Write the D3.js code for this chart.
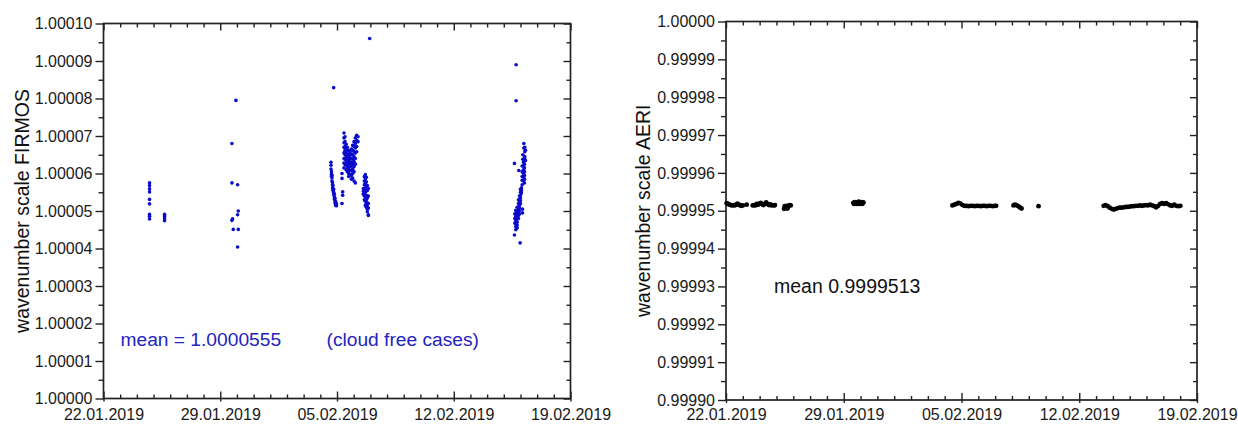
<!DOCTYPE html>
<html>
<head>
<meta charset="utf-8">
<script src="https://cdn.jsdelivr.net/npm/d3@7"></script>
<style>
  html, body { margin: 0; padding: 0; background: #fff; }
  svg { display: block; }
  text { font-family: "Liberation Sans", Arial, sans-serif; }
</style>
</head>
<body>
<svg id="chart" width="1238" height="425"></svg>
<script>
// ---------------- DATA ----------------
const xTickLabels = ["22.01.2019", "29.01.2019", "05.02.2019", "12.02.2019", "19.02.2019"];
const xTickDates = ["2019-01-22", "2019-01-29", "2019-02-05", "2019-02-12", "2019-02-19"];
const firmosYTickLabels = ["1.00000","1.00001","1.00002","1.00003","1.00004","1.00005","1.00006","1.00007","1.00008","1.00009","1.00010"];
const aeriYTickLabels = ["0.99990","0.99991","0.99992","0.99993","0.99994","0.99995","0.99996","0.99997","0.99998","0.99999","1.00000"];

// FIRMOS: days since 22.01.2019 00:00 (one entry per measurement column) and the values measured there
const firmosDay = [
  2.76, 3.66,
  7.70, 7.94, 8.04, 8.08, 7.74, 7.78,
  13.80, 15.96,
  13.64, 13.67, 13.70, 13.73, 13.76, 13.80, 13.84, 13.88, 13.92, 13.96,
  14.30, 14.34,
  14.42, 14.48, 14.55, 14.62, 14.70, 14.78, 14.86, 14.94, 15.02, 15.10, 15.18, 15.26,
  15.58, 15.64, 15.70, 15.76, 15.82, 15.88,
  24.74, 24.64, 25.20, 25.26, 25.30, 25.14, 25.18, 25.24, 25.10, 24.90,
  25.06, 25.00, 24.94, 24.88, 24.80, 24.72, 24.66, 25.12, 24.98
];
const firmosScale = [
  [1.0000575, 1.0000568, 1.0000559, 1.0000551, 1.0000531, 1.0000519, 1.0000491, 1.0000486, 1.0000479],
  [1.0000491, 1.0000487, 1.0000484, 1.0000479, 1.0000474],
  [1.0000680, 1.0000575, 1.0000475],
  [1.0000795],
  [1.0000570, 1.0000490, 1.0000404],
  [1.0000500, 1.0000451],
  [1.0000479],
  [1.0000451],
  [1.0000829],
  [1.0000960],
  [1.0000630, 1.0000622, 1.0000612],
  [1.0000605, 1.0000598, 1.0000593],
  [1.0000595, 1.0000588, 1.0000580],
  [1.0000576, 1.0000570, 1.0000562],
  [1.0000568, 1.0000560, 1.0000555],
  [1.0000558, 1.0000550, 1.0000544],
  [1.0000545, 1.0000538, 1.0000532],
  [1.0000534, 1.0000528, 1.0000522],
  [1.0000525, 1.0000518, 1.0000515],
  [1.0000515, 1.0000520, 1.0000514],
  [1.0000600, 1.0000587, 1.0000520],
  [1.0000551, 1.0000542],
  [1.0000708, 1.0000695, 1.0000682, 1.0000670, 1.0000655, 1.0000640, 1.0000628, 1.0000615],
  [1.0000698, 1.0000685, 1.0000672, 1.0000662, 1.0000650, 1.0000638, 1.0000625],
  [1.0000678, 1.0000666, 1.0000655, 1.0000645, 1.0000635, 1.0000622, 1.0000610],
  [1.0000670, 1.0000660, 1.0000650, 1.0000640, 1.0000630, 1.0000618, 1.0000605],
  [1.0000662, 1.0000652, 1.0000644, 1.0000634, 1.0000624, 1.0000612, 1.0000600, 1.0000592],
  [1.0000658, 1.0000648, 1.0000638, 1.0000628, 1.0000618, 1.0000608, 1.0000598],
  [1.0000665, 1.0000652, 1.0000640, 1.0000630, 1.0000620, 1.0000608, 1.0000595, 1.0000585],
  [1.0000675, 1.0000662, 1.0000650, 1.0000638, 1.0000625, 1.0000612, 1.0000600, 1.0000588],
  [1.0000685, 1.0000672, 1.0000658, 1.0000645, 1.0000632, 1.0000618, 1.0000605, 1.0000580],
  [1.0000695, 1.0000680, 1.0000668, 1.0000655, 1.0000640, 1.0000625, 1.0000575],
  [1.0000702, 1.0000688, 1.0000672, 1.0000658],
  [1.0000698, 1.0000685],
  [1.0000560, 1.0000552, 1.0000545],
  [1.0000592, 1.0000580, 1.0000570, 1.0000558, 1.0000548, 1.0000540, 1.0000530],
  [1.0000597, 1.0000586, 1.0000574, 1.0000562, 1.0000550, 1.0000538, 1.0000526, 1.0000515],
  [1.0000590, 1.0000578, 1.0000566, 1.0000554, 1.0000542, 1.0000530, 1.0000520, 1.0000510],
  [1.0000568, 1.0000555, 1.0000535, 1.0000522, 1.0000512, 1.0000505, 1.0000498],
  [1.0000560, 1.0000540, 1.0000520, 1.0000508, 1.0000490, 1.0000488],
  [1.0000890, 1.0000794],
  [1.0000627, 1.0000436],
  [1.0000680, 1.0000668],
  [1.0000670, 1.0000658, 1.0000645],
  [1.0000662, 1.0000635],
  [1.0000650, 1.0000638],
  [1.0000630, 1.0000620, 1.0000610, 1.0000600, 1.0000590, 1.0000580],
  [1.0000640, 1.0000625, 1.0000615, 1.0000605, 1.0000595, 1.0000585, 1.0000575],
  [1.0000620, 1.0000605, 1.0000592, 1.0000582, 1.0000570],
  [1.0000608],
  [1.0000562, 1.0000555, 1.0000548],
  [1.0000558, 1.0000550, 1.0000542, 1.0000535, 1.0000528, 1.0000520],
  [1.0000540, 1.0000532, 1.0000525, 1.0000515, 1.0000508, 1.0000500, 1.0000492],
  [1.0000530, 1.0000520, 1.0000510, 1.0000502, 1.0000495, 1.0000488, 1.0000480],
  [1.0000510, 1.0000500, 1.0000492, 1.0000485, 1.0000478, 1.0000470, 1.0000462, 1.0000455],
  [1.0000502, 1.0000495, 1.0000485, 1.0000475, 1.0000465, 1.0000458, 1.0000450],
  [1.0000492, 1.0000480, 1.0000468],
  [1.0000505, 1.0000495],
  [1.0000415]
];

// AERI: days since 22.01.2019 00:00 and values
const aeriDay = [
  0.04, 0.12, 0.20, 0.28, 0.36, 0.44, 0.52, 0.60, 0.68, 0.76, 0.84, 0.92, 1.00,
  1.23,
  1.59, 1.67, 1.75, 1.83, 1.91, 1.99, 2.07, 2.15, 2.23, 2.31, 2.39, 2.47, 2.55, 2.63, 2.71, 2.79, 2.87, 2.91,
  3.45, 3.49, 3.53, 3.61, 3.65, 3.69, 3.77, 3.85,
  7.57, 7.61, 7.65, 7.73, 7.77, 7.81, 7.89, 7.93, 7.97, 8.05, 8.09, 8.13, 8.17,
  13.46, 13.58, 13.70, 13.82, 13.94, 14.06, 14.18, 14.30, 14.42, 14.54, 14.66, 14.78, 14.90, 15.02, 15.14, 15.26, 15.38, 15.50, 15.62, 15.74, 15.86, 15.98, 16.06,
  17.09, 17.17, 17.25, 17.33, 17.41, 17.49, 17.57,
  18.58,
  22.45, 22.57, 22.69, 22.81, 22.93, 23.05, 23.17, 23.29, 23.41, 23.53, 23.65, 23.77, 23.89, 24.01, 24.13, 24.25, 24.37, 24.49, 24.61, 24.73,
  24.85, 24.97, 25.09, 25.21, 25.33, 25.45, 25.57, 25.69, 25.81, 25.93, 26.05, 26.17, 26.29, 26.41, 26.53, 26.65, 26.77, 26.89, 27.01
];
const aeriScale = [
  0.9999520, 0.9999518, 0.9999516, 0.9999515, 0.9999514, 0.9999515, 0.9999514, 0.9999516, 0.9999519, 0.9999516, 0.9999514, 0.9999513, 0.9999514,
  0.9999516,
  0.9999514, 0.9999515, 0.9999514, 0.9999518, 0.9999516, 0.9999519, 0.9999521, 0.9999517, 0.9999515, 0.9999519, 0.9999522, 0.9999518, 0.9999515, 0.9999517, 0.9999514, 0.9999515, 0.9999514, 0.9999515,
  0.9999505, 0.9999512, 0.9999510, 0.9999513, 0.9999506, 0.9999509, 0.9999515, 0.9999514,
  0.9999521, 0.9999518, 0.9999523, 0.9999520, 0.9999518, 0.9999522, 0.9999524, 0.9999518, 0.9999521, 0.9999523, 0.9999518, 0.9999520, 0.9999522,
  0.9999514, 0.9999516, 0.9999518, 0.9999521, 0.9999519, 0.9999515, 0.9999513, 0.9999513, 0.9999512, 0.9999513, 0.9999513, 0.9999512, 0.9999513, 0.9999513, 0.9999512, 0.9999513, 0.9999513, 0.9999512, 0.9999513, 0.9999513, 0.9999512, 0.9999513, 0.9999513,
  0.9999514, 0.9999516, 0.9999515, 0.9999513, 0.9999511, 0.9999508, 0.9999506,
  0.9999512,
  0.9999513, 0.9999515, 0.9999512, 0.9999508, 0.9999505, 0.9999503, 0.9999505, 0.9999507, 0.9999508, 0.9999508, 0.9999509, 0.9999510, 0.9999510, 0.9999511, 0.9999512, 0.9999512, 0.9999513, 0.9999513, 0.9999514, 0.9999513,
  0.9999514, 0.9999515, 0.9999514, 0.9999516, 0.9999514, 0.9999512, 0.9999509, 0.9999513, 0.9999518, 0.9999520, 0.9999518, 0.9999520, 0.9999517, 0.9999514, 0.9999513, 0.9999516, 0.9999513, 0.9999512, 0.9999513
];

// ---------------- DRAWING ----------------
const svg = d3.select("#chart");
const DAY = 86400000;
const startDate = new Date(Date.UTC(2019, 0, 22));
const endDate = new Date(Date.UTC(2019, 1, 19));
const toDate = d => new Date(startDate.getTime() + d * DAY);
const parseTick = s => new Date(s + "T00:00:00Z");

function drawPanel(cfg) {
  const x = d3.scaleUtc().domain([startDate, endDate]).range([cfg.left, cfg.right]);
  const yVals = cfg.yLabels.map(Number);
  const y = d3.scaleLinear().domain([yVals[0], yVals[yVals.length - 1]]).range([cfg.bottom, cfg.top]);

  const majorX = xTickDates.map(parseTick);
  const minorX = d3.utcDay.range(startDate, endDate).concat([endDate]).filter(d => !majorX.some(m => +m === +d));
  const step = yVals[1] - yVals[0];
  const minorY = yVals.slice(0, -1).map(v => v + step / 2);

  const g = svg.append("g");
  const axisColor = "#222";

  g.append("rect").attr("x", cfg.left).attr("y", cfg.top)
    .attr("width", cfg.right - cfg.left).attr("height", cfg.bottom - cfg.top)
    .attr("fill", "none").attr("stroke", axisColor).attr("stroke-width", 1.7);

  function styleAxis(sel) {
    sel.select(".domain").remove();
    sel.selectAll("line").attr("stroke", axisColor).attr("stroke-width", 1.4);
    sel.selectAll("text").attr("fill", "#1a1a1a").style("font-size", "16px");
  }

  // left axis (outward ticks, labelled)
  g.append("g").attr("transform", `translate(${cfg.left},0)`)
    .call(d3.axisLeft(y).tickValues(yVals).tickFormat((d, i) => cfg.yLabels[i]).tickSize(8).tickPadding(3))
    .call(styleAxis);
  g.append("g").attr("transform", `translate(${cfg.left},0)`)
    .call(d3.axisLeft(y).tickValues(minorY).tickFormat("").tickSize(5))
    .call(styleAxis);
  // right axis (inward ticks)
  g.append("g").attr("transform", `translate(${cfg.right},0)`)
    .call(d3.axisLeft(y).tickValues(yVals).tickFormat("").tickSize(7))
    .call(styleAxis);
  g.append("g").attr("transform", `translate(${cfg.right},0)`)
    .call(d3.axisLeft(y).tickValues(minorY).tickFormat("").tickSize(4))
    .call(styleAxis);
  // bottom axis (inward ticks, labelled)
  g.append("g").attr("transform", `translate(0,${cfg.bottom})`)
    .call(d3.axisBottom(x).tickValues(majorX).tickFormat((d, i) => xTickLabels[i]).tickSize(-7).tickPadding(cfg.xPad))
    .call(styleAxis);
  g.append("g").attr("transform", `translate(0,${cfg.bottom})`)
    .call(d3.axisBottom(x).tickValues(majorX).tickFormat("").tickSize(3))
    .call(styleAxis);
  g.append("g").attr("transform", `translate(0,${cfg.bottom})`)
    .call(d3.axisBottom(x).tickValues(minorX).tickFormat("").tickSize(-4))
    .call(styleAxis);
  // top axis (inward ticks)
  g.append("g").attr("transform", `translate(0,${cfg.top})`)
    .call(d3.axisTop(x).tickValues(majorX).tickFormat("").tickSize(-7))
    .call(styleAxis);
  g.append("g").attr("transform", `translate(0,${cfg.top})`)
    .call(d3.axisTop(x).tickValues(minorX).tickFormat("").tickSize(-4))
    .call(styleAxis);

  g.append("text")
    .attr("transform", `translate(${cfg.titleX},${(cfg.top + cfg.bottom) / 2}) rotate(-90)`)
    .attr("text-anchor", "middle").attr("dominant-baseline", "central")
    .style("font-size", "19.5px").attr("fill", "#111")
    .text(cfg.title);

  return { x, y, g };
}

// Left panel: FIRMOS
const L = drawPanel({
  left: 103.5, right: 570.5, top: 23.5, bottom: 398.5,
  yLabels: firmosYTickLabels, title: "wavenumber scale FIRMOS", titleX: 22, xPad: 10.5
});
const firmosPts = [];
firmosDay.forEach((d, i) => firmosScale[i].forEach(v => firmosPts.push([d, v])));
L.g.append("g").selectAll("circle").data(firmosPts).join("circle")
  .attr("cx", p => L.x(toDate(p[0]))).attr("cy", p => L.y(p[1]))
  .attr("r", 1.8).attr("fill", "#0b0bcc");
L.g.append("text").attr("x", 120.5).attr("y", 346).attr("fill", "#2323c0")
  .style("font-size", "19.2px").text("mean = 1.0000555");
L.g.append("text").attr("x", 326.5).attr("y", 346).attr("fill", "#2323c0")
  .style("font-size", "19.2px").text("(cloud free cases)");

// Right panel: AERI
const R = drawPanel({
  left: 726, right: 1197, top: 21.5, bottom: 400,
  yLabels: aeriYTickLabels, title: "wavenumber scale AERI", titleX: 643, xPad: 9
});
R.g.append("g").selectAll("circle").data(aeriDay.map((d, i) => [d, aeriScale[i]])).join("circle")
  .attr("cx", p => R.x(toDate(p[0]))).attr("cy", p => R.y(p[1]))
  .attr("r", 2.4).attr("fill", "#000");
R.g.append("text").attr("x", 774).attr("y", 293).attr("fill", "#111")
  .style("font-size", "19.5px").text("mean 0.9999513");
</script>
</body>
</html>
